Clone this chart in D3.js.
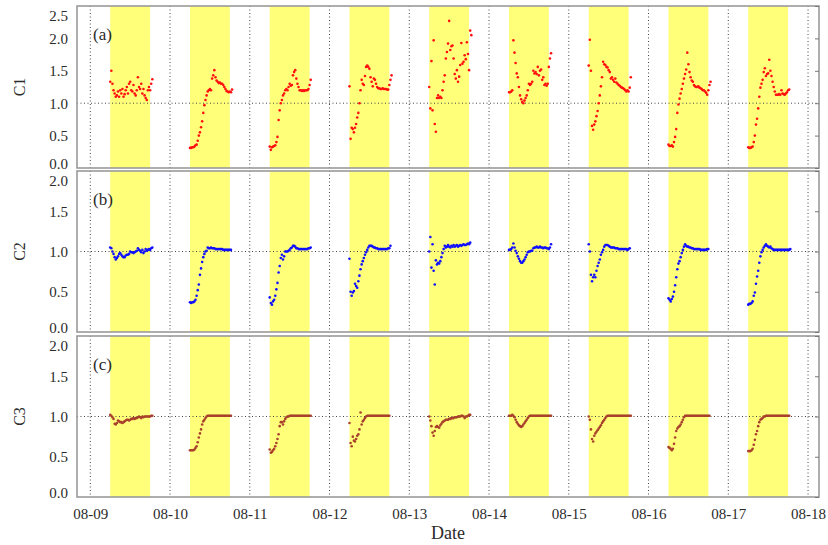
<!DOCTYPE html>
<html>
<head>
<meta charset="utf-8">
<script src="https://cdn.jsdelivr.net/npm/d3@7"></script>
<style>
  body { margin: 0; background: #fff; }
  svg text { font-family: 'Liberation Serif', 'Times New Roman', serif; fill: #2a2a2a; }
</style>
</head>
<body>
<svg id="chart" width="828" height="545"></svg>
<script>
// days shown on the axis, and the days that carry a sampling window
const tickDays = ['08-09', '08-10', '08-11', '08-12', '08-13', '08-14', '08-15', '08-16', '08-17', '08-18'];
const sampleDays = ['08-09', '08-10', '08-11', '08-12', '08-13', '08-14', '08-15', '08-16', '08-17'];
const bandStartHour = 6;
const bandEndHour = 18;
const firstSampleHour = 6;
const sampleStepMinutes = 20;

const panelNames = ['C1', 'C2', 'C3'];
const panelTags = ['(a)', '(b)', '(c)'];
const panelMax = [2.5, 2.0, 2.0];
const yTicks = [
  [0, 0.5, 1.0, 1.5, 2.0, 2.5],
  [0, 0.5, 1.0, 1.5, 2.0],
  [0, 0.5, 1.0, 1.5, 2.0]
];

// C1 — one array per day, 20 min apart from 06:00
const c1 = [
  [1.33,1.5,1.3,1.2,1.15,1.1,1.12,1.18,1.1,1.2,1.15,1.22,1.1,1.14,1.2,1.25,1.15,1.3,1.33,1.2,1.18,1.28,1.15,1.12,1.2,1.4,1.25,1.22,1.3,1.15,1.22,1.12,1.08,1.05,1.2,1.25,1.2,1.3,1.37],
  [0.31,0.31,0.32,0.32,0.33,0.35,0.36,0.42,0.5,0.55,0.63,0.72,0.85,0.97,1.05,1.12,1.18,1.2,1.22,1.2,1.38,1.43,1.51,1.4,1.35,1.33,1.31,1.32,1.3,1.3,1.28,1.25,1.22,1.19,1.18,1.17,1.18,1.17,1.21],
  [0.33,0.28,0.32,0.33,0.34,0.35,0.4,0.48,0.74,0.89,1.0,1.05,1.12,1.15,1.2,1.22,1.2,1.25,1.3,1.27,1.28,1.43,1.48,1.51,1.38,1.3,1.25,1.2,1.2,1.19,1.2,1.19,1.2,1.2,1.2,1.22,1.28,1.36],
  [1.26,0.45,0.62,0.6,0.55,0.62,0.68,0.78,0.85,1.0,1.2,1.36,1.3,1.28,1.42,1.56,1.58,1.56,1.53,1.4,1.33,1.26,1.38,1.36,1.3,1.25,1.23,1.23,1.22,1.22,1.23,1.22,1.22,1.22,1.21,1.21,1.28,1.36,1.43],
  [1.25,0.92,1.65,0.89,1.97,0.68,0.56,1.08,1.12,1.08,1.1,1.08,1.2,1.33,1.43,1.69,1.79,1.92,2.27,1.82,1.88,1.89,1.69,1.45,1.38,1.51,1.33,1.41,1.59,1.93,1.61,1.64,1.74,1.68,1.94,1.76,1.51,2.12,2.05],
  [1.17,1.17,1.18,1.2,1.97,1.78,1.62,1.46,1.4,1.25,1.12,1.06,1.02,1.0,1.04,1.08,1.12,1.2,1.3,1.28,1.3,1.33,1.5,1.46,1.48,1.45,1.56,1.43,1.5,1.52,1.36,1.4,1.28,1.3,1.27,1.3,1.56,1.69,1.77],
  [1.58,1.98,1.5,0.65,0.59,0.67,0.72,0.8,0.88,1.0,1.12,1.26,1.4,1.64,1.6,1.59,1.56,1.55,1.51,1.48,1.38,1.4,1.36,1.33,1.38,1.32,1.3,1.28,1.27,1.25,1.24,1.23,1.22,1.2,1.18,1.2,1.18,1.24,1.4],
  [0.36,0.34,0.34,0.35,0.33,0.4,0.48,0.6,0.85,0.98,1.07,1.15,1.22,1.3,1.38,1.45,1.52,1.78,1.6,1.48,1.4,1.35,1.33,1.28,1.26,1.25,1.25,1.26,1.24,1.23,1.22,1.2,1.2,1.18,1.16,1.13,1.2,1.28,1.33],
  [0.32,0.31,0.31,0.32,0.33,0.4,0.5,0.67,0.76,0.92,1.1,1.24,1.3,1.36,1.48,1.54,1.42,1.45,1.46,1.67,1.5,1.42,1.33,1.25,1.18,1.13,1.13,1.13,1.14,1.13,1.2,1.15,1.14,1.13,1.15,1.17,1.2,1.21]
];

const c2 = [
  [1.05,1.04,1.0,0.97,0.93,0.9,0.92,0.94,0.97,0.98,0.96,0.94,0.93,0.93,0.95,0.96,0.96,0.97,1.0,0.99,0.99,0.98,0.99,1.0,1.01,1.04,1.02,1.01,0.99,1.02,0.98,1.0,1.03,1.01,1.02,1.03,1.02,1.04,1.05],
  [0.37,0.36,0.37,0.37,0.38,0.4,0.45,0.52,0.59,0.71,0.79,0.87,0.93,0.97,1.0,1.01,1.05,1.04,1.04,1.05,1.04,1.04,1.04,1.03,1.03,1.03,1.03,1.03,1.03,1.03,1.02,1.02,1.02,1.02,1.02,1.02,1.02,1.02],
  [0.43,0.36,0.34,0.38,0.4,0.45,0.53,0.61,0.74,0.82,0.92,0.96,0.9,0.94,1.0,1.0,1.0,1.01,1.02,1.04,1.05,1.07,1.07,1.06,1.04,1.04,1.03,1.03,1.03,1.03,1.03,1.03,1.03,1.03,1.03,1.04,1.04,1.05],
  [0.91,0.5,0.45,0.49,0.51,0.6,0.57,0.55,0.63,0.7,0.78,0.84,0.88,0.92,0.96,0.99,1.02,1.05,1.07,1.07,1.07,1.06,1.05,1.05,1.04,1.04,1.03,1.03,1.03,1.03,1.03,1.03,1.03,1.03,1.03,1.04,1.04,1.07],
  [1.0,1.18,0.8,1.09,0.76,0.59,0.89,0.84,0.86,0.85,0.88,0.93,0.98,1.03,1.07,1.05,1.06,1.08,1.06,1.05,1.07,1.06,1.08,1.06,1.07,1.08,1.06,1.07,1.08,1.07,1.08,1.09,1.08,1.08,1.09,1.1,1.09,1.11],
  [1.02,1.02,1.03,1.05,1.1,1.05,1.01,0.98,0.94,0.91,0.88,0.86,0.86,0.88,0.9,0.93,0.96,0.99,1.0,1.0,1.01,1.01,1.04,1.05,1.05,1.06,1.05,1.05,1.06,1.05,1.05,1.04,1.05,1.05,1.04,1.04,1.03,1.05,1.09],
  [1.09,1.0,0.71,0.63,0.68,0.71,0.68,0.76,0.82,0.86,0.9,0.96,0.99,1.02,1.06,1.08,1.08,1.08,1.07,1.06,1.05,1.05,1.05,1.05,1.04,1.04,1.04,1.03,1.03,1.03,1.03,1.03,1.03,1.03,1.03,1.02,1.03,1.04],
  [0.42,0.4,0.38,0.41,0.44,0.5,0.58,0.68,0.78,0.85,0.88,0.93,0.98,1.02,1.06,1.09,1.07,1.06,1.06,1.05,1.05,1.04,1.04,1.03,1.03,1.03,1.03,1.03,1.03,1.02,1.02,1.02,1.02,1.02,1.02,1.03,1.03],
  [0.34,0.35,0.35,0.36,0.38,0.45,0.49,0.6,0.69,0.76,0.86,0.94,0.99,1.02,1.05,1.07,1.09,1.07,1.06,1.05,1.06,1.04,1.03,1.02,1.02,1.02,1.02,1.02,1.02,1.02,1.02,1.02,1.02,1.02,1.02,1.02,1.02,1.02,1.03]
];

const c3 = [
  [1.02,1.01,0.99,0.97,0.91,0.9,0.92,0.95,0.94,0.93,0.93,0.92,0.93,0.94,0.95,0.96,0.96,0.95,0.96,0.97,0.97,0.98,0.97,0.98,0.98,0.99,1.0,0.99,0.98,1.0,0.99,1.0,1.0,1.0,1.0,1.0,1.0,1.01,1.01],
  [0.58,0.58,0.58,0.58,0.59,0.61,0.63,0.68,0.74,0.79,0.84,0.9,0.94,0.96,0.98,1.0,1.01,1.01,1.01,1.01,1.01,1.01,1.01,1.01,1.01,1.01,1.01,1.01,1.01,1.01,1.01,1.01,1.01,1.01,1.01,1.01,1.01,1.01],
  [0.59,0.55,0.56,0.58,0.6,0.63,0.67,0.72,0.78,0.88,0.93,0.93,0.9,0.94,0.97,0.99,1.0,1.0,1.01,1.01,1.01,1.01,1.01,1.01,1.01,1.01,1.01,1.01,1.01,1.01,1.01,1.01,1.01,1.01,1.01,1.01,1.01,1.01],
  [0.92,0.67,0.63,0.75,0.7,0.69,0.72,0.76,0.78,0.84,1.05,0.9,0.94,0.96,0.98,1.0,1.01,1.01,1.01,1.01,1.01,1.01,1.01,1.01,1.01,1.01,1.01,1.01,1.01,1.01,1.01,1.01,1.01,1.01,1.01,1.01,1.01],
  [1.0,0.95,0.88,0.8,0.76,0.82,0.87,0.88,0.87,0.86,0.89,0.91,0.93,0.94,0.95,0.96,0.96,0.96,0.97,0.97,0.98,0.98,0.98,0.99,0.99,0.99,1.0,1.0,1.0,1.01,1.01,1.0,0.98,1.0,1.0,1.01,1.02,1.02],
  [1.01,1.01,1.01,1.02,1.01,0.99,0.96,0.93,0.91,0.89,0.88,0.87,0.88,0.9,0.92,0.94,0.96,0.98,1.0,1.01,1.01,1.01,1.01,1.01,1.01,1.01,1.01,1.01,1.01,1.01,1.01,1.01,1.01,1.01,1.01,1.01,1.01,1.01,1.01],
  [1.0,0.96,0.84,0.72,0.69,0.76,0.79,0.81,0.83,0.85,0.87,0.89,0.92,0.94,0.96,0.98,1.0,1.01,1.01,1.01,1.01,1.01,1.01,1.01,1.01,1.01,1.01,1.01,1.01,1.01,1.01,1.01,1.01,1.01,1.01,1.01,1.01,1.01,1.01],
  [0.62,0.61,0.6,0.58,0.6,0.66,0.74,0.82,0.85,0.87,0.88,0.9,0.93,0.96,0.99,1.01,1.01,1.01,1.01,1.01,1.01,1.01,1.01,1.01,1.01,1.01,1.01,1.01,1.01,1.01,1.01,1.01,1.01,1.01,1.01,1.01,1.01,1.01],
  [0.57,0.57,0.57,0.58,0.6,0.65,0.71,0.78,0.82,0.88,0.93,0.96,0.97,0.98,1.0,1.0,1.01,1.01,1.01,1.01,1.01,1.01,1.01,1.01,1.01,1.01,1.01,1.01,1.01,1.01,1.01,1.01,1.01,1.01,1.01,1.01,1.01,1.01]
];

const series = [c1, c2, c3];
const colors = ['#ff1010', '#1010ff', '#a8402c'];

// --- layout ---
const svg = d3.select('#chart');
const left = 77;
const right = 819;
const panels = [
  { top: 6, bottom: 168 },
  { top: 171, bottom: 332 },
  { top: 336, bottom: 497 }
];

const year = 2021;
const dayDate = (label, hour = 0) => {
  const [m, d] = label.split('-').map(Number);
  return new Date(Date.UTC(year, m - 1, d, 0, 0) + hour * 3600e3);
};

const x = d3.scaleUtc()
  .domain([dayDate('08-08', 20), dayDate('08-18', 3.3)])
  .range([left, right]);

panels.forEach((p, pi) => {
  const y = d3.scaleLinear().domain([0, panelMax[pi]]).range([p.bottom, p.top]);
  const g = svg.append('g');

  // yellow daytime bands
  g.selectAll('rect.band')
    .data(sampleDays)
    .join('rect')
    .attr('class', 'band')
    .attr('x', d => x(dayDate(d, bandStartHour)))
    .attr('width', d => x(dayDate(d, bandEndHour)) - x(dayDate(d, bandStartHour)))
    .attr('y', p.top)
    .attr('height', p.bottom - p.top)
    .attr('fill', '#ffff7a');

  // dotted grid: every day, and the 1.0 line
  g.selectAll('line.vgrid')
    .data(tickDays)
    .join('line')
    .attr('x1', d => x(dayDate(d)))
    .attr('x2', d => x(dayDate(d)))
    .attr('y1', p.top)
    .attr('y2', p.bottom)
    .attr('stroke', '#444')
    .attr('stroke-width', 1)
    .attr('stroke-dasharray', '1,2.5');

  g.append('line')
    .attr('x1', left)
    .attr('x2', right)
    .attr('y1', y(1))
    .attr('y2', y(1))
    .attr('stroke', '#444')
    .attr('stroke-width', 1)
    .attr('stroke-dasharray', '1,2.5');

  // points
  const pts = [];
  series[pi].forEach((vals, di) => {
    vals.forEach((v, i) => {
      pts.push({ t: dayDate(sampleDays[di], firstSampleHour + (i * sampleStepMinutes) / 60), v });
    });
  });
  g.selectAll('circle')
    .data(pts)
    .join('circle')
    .attr('cx', d => x(d.t))
    .attr('cy', d => y(d.v))
    .attr('r', 1.3)
    .attr('fill', colors[pi]);

  // frame
  g.append('rect')
    .attr('x', left)
    .attr('y', p.top)
    .attr('width', right - left)
    .attr('height', p.bottom - p.top)
    .attr('fill', 'none')
    .attr('stroke', '#9a9a9a')
    .attr('stroke-width', 1.6);

  // left axis labels
  const ya = g.append('g')
    .attr('transform', `translate(${left},0)`)
    .call(d3.axisLeft(y).tickValues(yTicks[pi]).tickSize(0).tickPadding(9).tickFormat(d3.format('.1f')));
  ya.select('.domain').remove();
  ya.selectAll('text')
    .style('font-family', "'Liberation Serif', serif")
    .style('font-size', '15px')
    .attr('fill', '#2a2a2a')
    .attr('dy', d => (d === panelMax[pi] ? '0.95em' : d === 0 ? '0.05em' : '0.32em'));

  // right-side inner ticks
  const yr = g.append('g')
    .attr('transform', `translate(${right},0)`)
    .call(d3.axisRight(y).tickValues(yTicks[pi]).tickSize(-4).tickFormat(''));
  yr.select('.domain').remove();
  yr.selectAll('line').attr('stroke', '#777');

  // panel tag and axis title
  g.append('text')
    .attr('x', 93)
    .attr('y', p.top + 34)
    .style('font-size', '17px')
    .text(panelTags[pi]);

  g.append('text')
    .attr('transform', `translate(25,${(p.top + p.bottom) / 2}) rotate(-90)`)
    .attr('text-anchor', 'middle')
    .style('font-size', '16px')
    .text(panelNames[pi]);
});

// bottom date axis
const xa = svg.append('g')
  .attr('transform', `translate(0,${panels[2].bottom})`)
  .call(d3.axisBottom(x)
    .tickValues(tickDays.map(d => dayDate(d)))
    .tickSize(0)
    .tickPadding(11)
    .tickFormat(d3.utcFormat('%m-%d')));
xa.select('.domain').remove();
xa.selectAll('text')
  .style('font-family', "'Liberation Serif', serif")
  .style('font-size', '15px')
  .attr('fill', '#2a2a2a');

svg.append('text')
  .attr('x', (left + right) / 2)
  .attr('y', 539)
  .attr('text-anchor', 'middle')
  .style('font-size', '18px')
  .text('Date');
</script>
</body>
</html>
